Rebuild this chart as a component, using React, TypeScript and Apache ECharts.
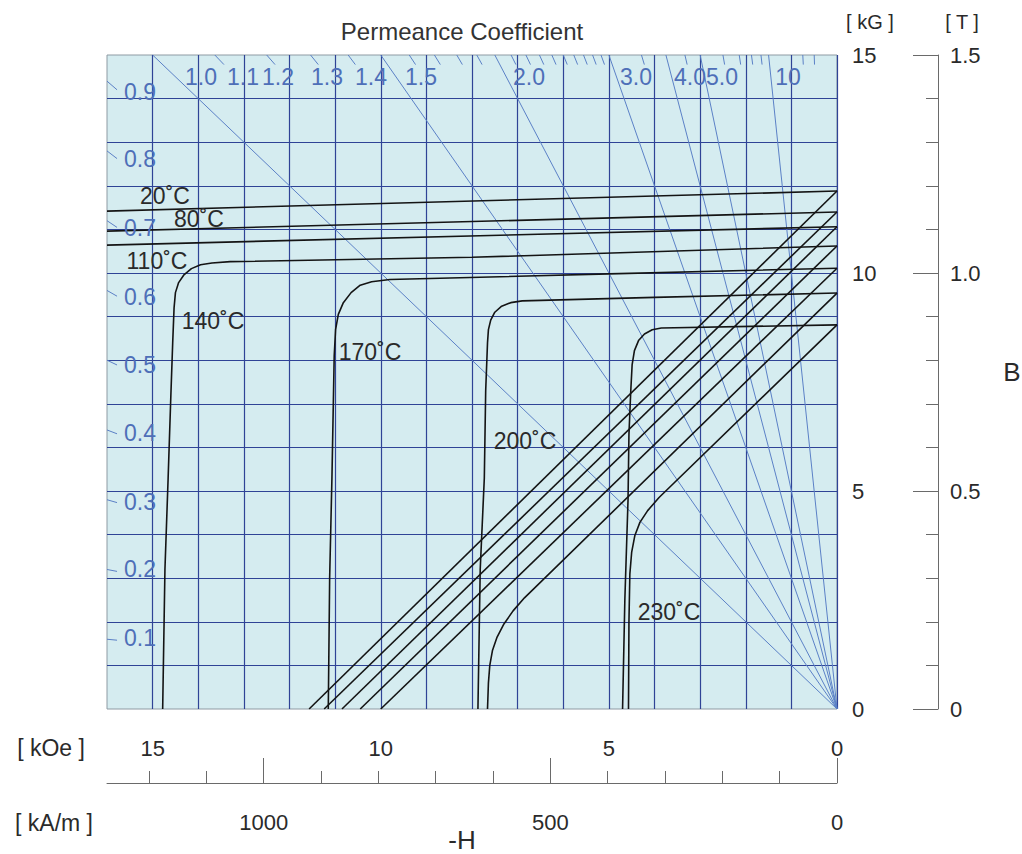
import React, { useEffect, useRef } from 'react';
import * as echarts from 'echarts';

// Units: H in kOe (drawn right-to-left as -H), B in kG.
const KAM_PER_KOE = 79.5775;
const H_MAX = 16;
const B_MAX = 15;

const temperatures = ['20˚C', '80˚C', '110˚C', '140˚C', '170˚C', '200˚C', '230˚C'];

// Intrinsic (J-H) curves, [H kOe, B kG]
const intrinsic20 = [[0, 11.88], [16, 11.42]];
const intrinsic80 = [[0, 11.4], [16, 10.96]];
const intrinsic110 = [[0, 11.06], [16, 10.64]];
const intrinsic140 = [
  [0, 10.62], [8.0, 10.36], [13.3, 10.26], [13.7, 10.23], [13.95, 10.19], [14.15, 10.1],
  [14.32, 9.95], [14.43, 9.78], [14.5, 9.55], [14.53, 9.2], [14.56, 8.4], [14.6, 7.2],
  [14.66, 5.3], [14.73, 3.2], [14.78, 0],
];
const intrinsic170 = [
  [0, 10.11], [5, 9.98], [9.8, 9.85], [10.2, 9.8], [10.45, 9.72], [10.65, 9.55],
  [10.82, 9.32], [10.93, 9.05], [10.99, 8.7], [11.02, 8.1], [11.07, 5.3], [11.12, 3.0], [11.15, 0],
];
const intrinsic200 = [
  [0, 9.54], [4, 9.44], [6.9, 9.36], [7.15, 9.32], [7.35, 9.24], [7.5, 9.1], [7.59, 8.92],
  [7.64, 8.7], [7.66, 8.4], [7.7, 7.3], [7.73, 5.3], [7.82, 3.2], [7.87, 0],
];
const intrinsic230 = [
  [0, 8.81], [3.85, 8.74], [4.05, 8.7], [4.22, 8.6], [4.35, 8.45], [4.44, 8.22], [4.49, 7.9],
  [4.52, 7.3], [4.56, 6.3], [4.58, 4.8], [4.65, 2.5], [4.7, 0],
];

// Normal (B-H) curves, [H kOe, B kG]
const normal20 = [[0, 11.88], [11.57, 0]];
const normal80 = [[0, 11.4], [11.24, 0]];
const normal110 = [[0, 11.06], [10.85, 0]];
const normal140 = [[0, 10.62], [10.45, 0]];
const normal170 = [[0, 10.11], [10.0, 0]];
const normal200 = [
  [0, 9.54], [6.85, 2.55], [7.1, 2.25], [7.3, 1.95], [7.45, 1.65], [7.55, 1.35], [7.61, 1.0],
  [7.64, 0.6], [7.66, 0],
];
const normal230 = [
  [0, 8.81], [3.9, 4.85], [4.15, 4.55], [4.32, 4.28], [4.43, 3.98], [4.5, 3.6], [4.54, 3.1],
  [4.56, 2.0], [4.57, 0],
];

const intrinsicCurves = [intrinsic20, intrinsic80, intrinsic110, intrinsic140, intrinsic170, intrinsic200, intrinsic230];
const normalCurves = [normal20, normal80, normal110, normal140, normal170, normal200, normal230];

// Permeance coefficient lines B/H
const pcLines = [1.0, 1.5, 2.0, 3.0, 4.0, 5.0, 10];
const pcTopTicks = [
  1.1, 1.2, 1.3, 1.4, 1.6, 1.7, 1.8, 1.9, 2.1, 2.2, 2.3, 2.4, 2.5, 2.6, 2.7, 2.8, 2.9,
  3.5, 4.5, 6, 7, 8, 9, 20, 30,
];
const pcLeftTicks = [0.1, 0.2, 0.3, 0.4, 0.5, 0.6, 0.7, 0.8, 0.9];
const pcTopLabels = ['1.0', '1.1', '1.2', '1.3', '1.4', '1.5', '2.0', '3.0', '4.0', '5.0', '10'];
const pcLeftLabels = ['0.1', '0.2', '0.3', '0.4', '0.5', '0.6', '0.7', '0.8', '0.9'];

// Axis tick labels
const kOeLabels = [0, 5, 10, 15];
const kGLabels = [0, 5, 10, 15];
const kAmMajor = [0, 500, 1000];
const kAmMinor = [100, 200, 300, 400, 600, 700, 800, 900, 1100, 1200];

// Text placement (px)
const pcTopLabelX = [201, 243, 278, 327, 371, 421, 529, 636, 690, 722, 788];
const pcTopLabelY = 77;
const pcLeftLabelX = 140;
const pcLeftLabelY = [638, 569, 502, 433, 365, 297, 228, 159, 92];
const tempLabelPos = [[165, 196], [199, 219], [157, 261], [213, 321], [370, 352], [525, 441], [669, 612]];

const FONT = '"Liberation Sans", Arial, Helvetica, sans-serif';
const GRID_BLUE = '#2f4396';
const PC_BLUE = '#5b80c6';
const LABEL_BLUE = '#4e6fb8';
const CURVE = '#141414';
const TEXT = '#2a2a2a';
const AXIS_GRAY = '#6a6a6a';

function text(x: number, y: number, s: string, size: number, color: string, align = 'center') {
  return {
    type: 'text',
    x,
    y,
    silent: true,
    z: 20,
    style: {
      text: s,
      fill: color,
      fontSize: size,
      fontFamily: FONT,
      align,
      verticalAlign: 'middle',
      textAlign: align,
      textVerticalAlign: 'middle',
    },
  };
}

export default function App() {
  const ref = useRef<HTMLDivElement>(null);

  useEffect(() => {
    if (!ref.current) return;
    const chart = echarts.init(ref.current, null, { renderer: 'svg' });

    const curveSeries: any[] = [];
    intrinsicCurves.forEach((c, i) => {
      curveSeries.push({
        name: `J ${temperatures[i]}`,
        type: 'line',
        data: c,
        symbol: 'none',
        silent: true,
        z: 4,
        lineStyle: { color: CURVE, width: 1.6 },
      });
    });
    normalCurves.forEach((c, i) => {
      curveSeries.push({
        name: `B ${temperatures[i]}`,
        type: 'line',
        data: c,
        symbol: 'none',
        silent: true,
        z: 4,
        lineStyle: { color: CURVE, width: 1.6 },
      });
    });

    const pcSeries = pcLines.map((p) => ({
      name: `Pc ${p}`,
      type: 'line',
      data: [[0, 0], [B_MAX / p, B_MAX]],
      symbol: 'none',
      silent: true,
      z: 3,
      lineStyle: { color: PC_BLUE, width: 1 },
    }));

    const tickLen = 0.22;
    const tickSeries = {
      type: 'lines',
      coordinateSystem: 'cartesian2d',
      silent: true,
      z: 3,
      lineStyle: { color: PC_BLUE, width: 1, opacity: 1 },
      data: [
        ...pcTopTicks.map((p) => ({ coords: [[B_MAX / p, B_MAX], [(B_MAX - tickLen) / p, B_MAX - tickLen]] })),
        ...pcLeftTicks.map((p) => ({ coords: [[H_MAX, H_MAX * p], [H_MAX - tickLen, (H_MAX - tickLen) * p]] })),
      ],
    };

    const graphics: any[] = [
      text(462, 31, 'Permeance Coefficient', 24, '#333333'),
      text(870, 22, '[ kG ]', 20, TEXT),
      text(962, 22, '[ T ]', 20, TEXT),
      text(1012, 372, 'B', 26, TEXT),
      text(51, 748, '[ kOe ]', 23, TEXT),
      text(54, 823, '[ kA/m ]', 23, TEXT),
      text(462, 840, '-H', 26, TEXT),
      ...pcTopLabels.map((s, i) => text(pcTopLabelX[i], pcTopLabelY, s, 23, LABEL_BLUE)),
      ...pcLeftLabels.map((s, i) => text(pcLeftLabelX, pcLeftLabelY[i], s, 23, LABEL_BLUE)),
      ...temperatures.map((s, i) => text(tempLabelPos[i][0], tempLabelPos[i][1], s, 23, TEXT)),
    ];

    const labelStyle = { fontSize: 22, color: TEXT, fontFamily: FONT };

    chart.setOption({
      animation: false,
      backgroundColor: '#ffffff',
      grid: {
        left: 107,
        right: 185,
        top: 55,
        bottom: 145,
        show: true,
        backgroundColor: '#d5ecf0',
        borderColor: '#8e9aa3',
        borderWidth: 1,
      },
      xAxis: [
        {
          type: 'value',
          min: 0,
          max: H_MAX,
          interval: 1,
          inverse: true,
          position: 'bottom',
          axisLine: { show: false, onZero: false },
          axisTick: { show: false },
          axisLabel: {
            ...labelStyle,
            margin: 28,
            formatter: (v: number) => (kOeLabels.includes(v) ? String(v) : ''),
          },
          splitLine: { show: true, showMaxLine: false, lineStyle: { color: GRID_BLUE, width: 1.2 } },
        },
        {
          type: 'value',
          min: 0,
          max: H_MAX * KAM_PER_KOE,
          inverse: true,
          position: 'bottom',
          offset: 74,
          axisLine: { show: true, onZero: false, lineStyle: { color: AXIS_GRAY, width: 1 } },
          axisTick: { show: true, inside: true, length: 25, customValues: kAmMajor, lineStyle: { color: AXIS_GRAY } },
          axisLabel: { ...labelStyle, margin: 28, customValues: kAmMajor, formatter: (v: number) => String(v) },
          splitLine: { show: false },
        },
        {
          type: 'value',
          min: 0,
          max: H_MAX * KAM_PER_KOE,
          inverse: true,
          position: 'bottom',
          offset: 74,
          axisLine: { show: false, onZero: false },
          axisTick: { show: true, inside: true, length: 12, customValues: kAmMinor, lineStyle: { color: AXIS_GRAY } },
          axisLabel: { show: false },
          splitLine: { show: false },
        },
      ],
      yAxis: [
        {
          type: 'value',
          min: 0,
          max: B_MAX,
          interval: 1,
          position: 'right',
          axisLine: { show: false, onZero: false },
          axisTick: { show: false },
          axisLabel: {
            ...labelStyle,
            margin: 15,
            formatter: (v: number) => (kGLabels.includes(v) ? String(v) : ''),
          },
          splitLine: { show: true, showMinLine: false, showMaxLine: false, lineStyle: { color: GRID_BLUE, width: 1.2 } },
        },
        {
          type: 'value',
          min: 0,
          max: B_MAX / 10,
          interval: 0.5,
          position: 'right',
          offset: 101,
          axisLine: { show: true, onZero: false, lineStyle: { color: AXIS_GRAY, width: 1 } },
          axisTick: { show: true, inside: true, length: 25, lineStyle: { color: AXIS_GRAY } },
          minorTick: { show: true, splitNumber: 5, length: 12, lineStyle: { color: AXIS_GRAY } },
          axisLabel: { ...labelStyle, margin: 12, formatter: (v: number) => (v === 0 ? '0' : v.toFixed(1)) },
          splitLine: { show: false },
        },
      ],
      graphic: graphics,
      series: [...pcSeries, tickSeries, ...curveSeries],
    });

    return () => chart.dispose();
  }, []);

  return (
    <div
      ref={ref}
      style={{ position: 'absolute', left: 0, top: 0, width: 1022, height: 854, background: '#ffffff' }}
    />
  );
}
